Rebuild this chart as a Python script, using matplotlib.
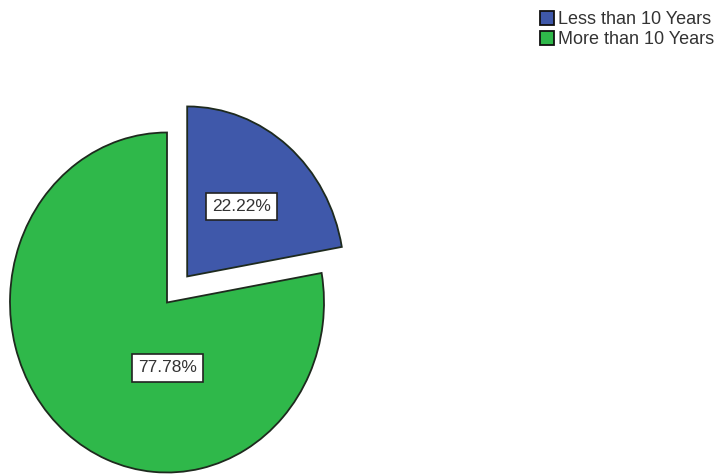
import matplotlib.pyplot as plt
import numpy as np

# data
labels = ['Less than 10 Years', 'More than 10 Years']
shares = [22.22, 77.78]
colors = ['#3f58aa', '#2fb84a']
explode = [0.2, 0.0]

W, H = 718, 474
fig = plt.figure(figsize=(W / 100, H / 100), dpi=100)
plt.rcParams['font.family'] = ['Liberation Sans', 'DejaVu Sans']

# pie centre (pixels from top-left) and radii
cx, cy, rx, ry = 167, 302.5, 157, 170
ax = fig.add_axes([(cx - 1.5 * rx) / W, (H - cy - 1.5 * ry) / H, 3 * rx / W, 3 * ry / H])
ax.axis('off')

wedges, _ = ax.pie(shares, colors=colors, explode=explode, startangle=90,
                   counterclock=False, radius=1.0,
                   wedgeprops=dict(edgecolor='#1e2a1e', linewidth=1.3))
ax.set_aspect('auto')
ax.set_xlim(-1.5, 1.5)
ax.set_ylim(-1.5, 1.5)

box = dict(boxstyle='square,pad=0.35', facecolor='white', edgecolor='#222222', linewidth=1.2)
# blue label along its mid angle
mid = np.deg2rad(90 - shares[0] * 3.6 / 2)
bx = (0.2 + 0.535) * np.cos(mid)
by = (0.2 + 0.535) * np.sin(mid)
ax.text(bx, by, f'{shares[0]:.2f}%', ha='center', va='center', fontsize=12.5,
        color='#333333', bbox=box)
# green label placed below the centre
ax.text(0.006, -0.385, f'{shares[1]:.2f}%', ha='center', va='center', fontsize=12.5,
        color='#333333', bbox=box)

leg = fig.legend(wedges, labels, loc='upper right', bbox_to_anchor=(1.0 + 5 / W, 1.0 - 2 / H),
                 frameon=False, fontsize=13.0, handlelength=0.8, handleheight=0.8,
                 handletextpad=0.2, labelspacing=0.15, borderaxespad=0.3, borderpad=0.2)
for t in leg.get_texts():
    t.set_color('#333333')
for p in leg.get_patches():
    p.set_edgecolor('#111111')

fig.savefig('out.png', dpi=100)
